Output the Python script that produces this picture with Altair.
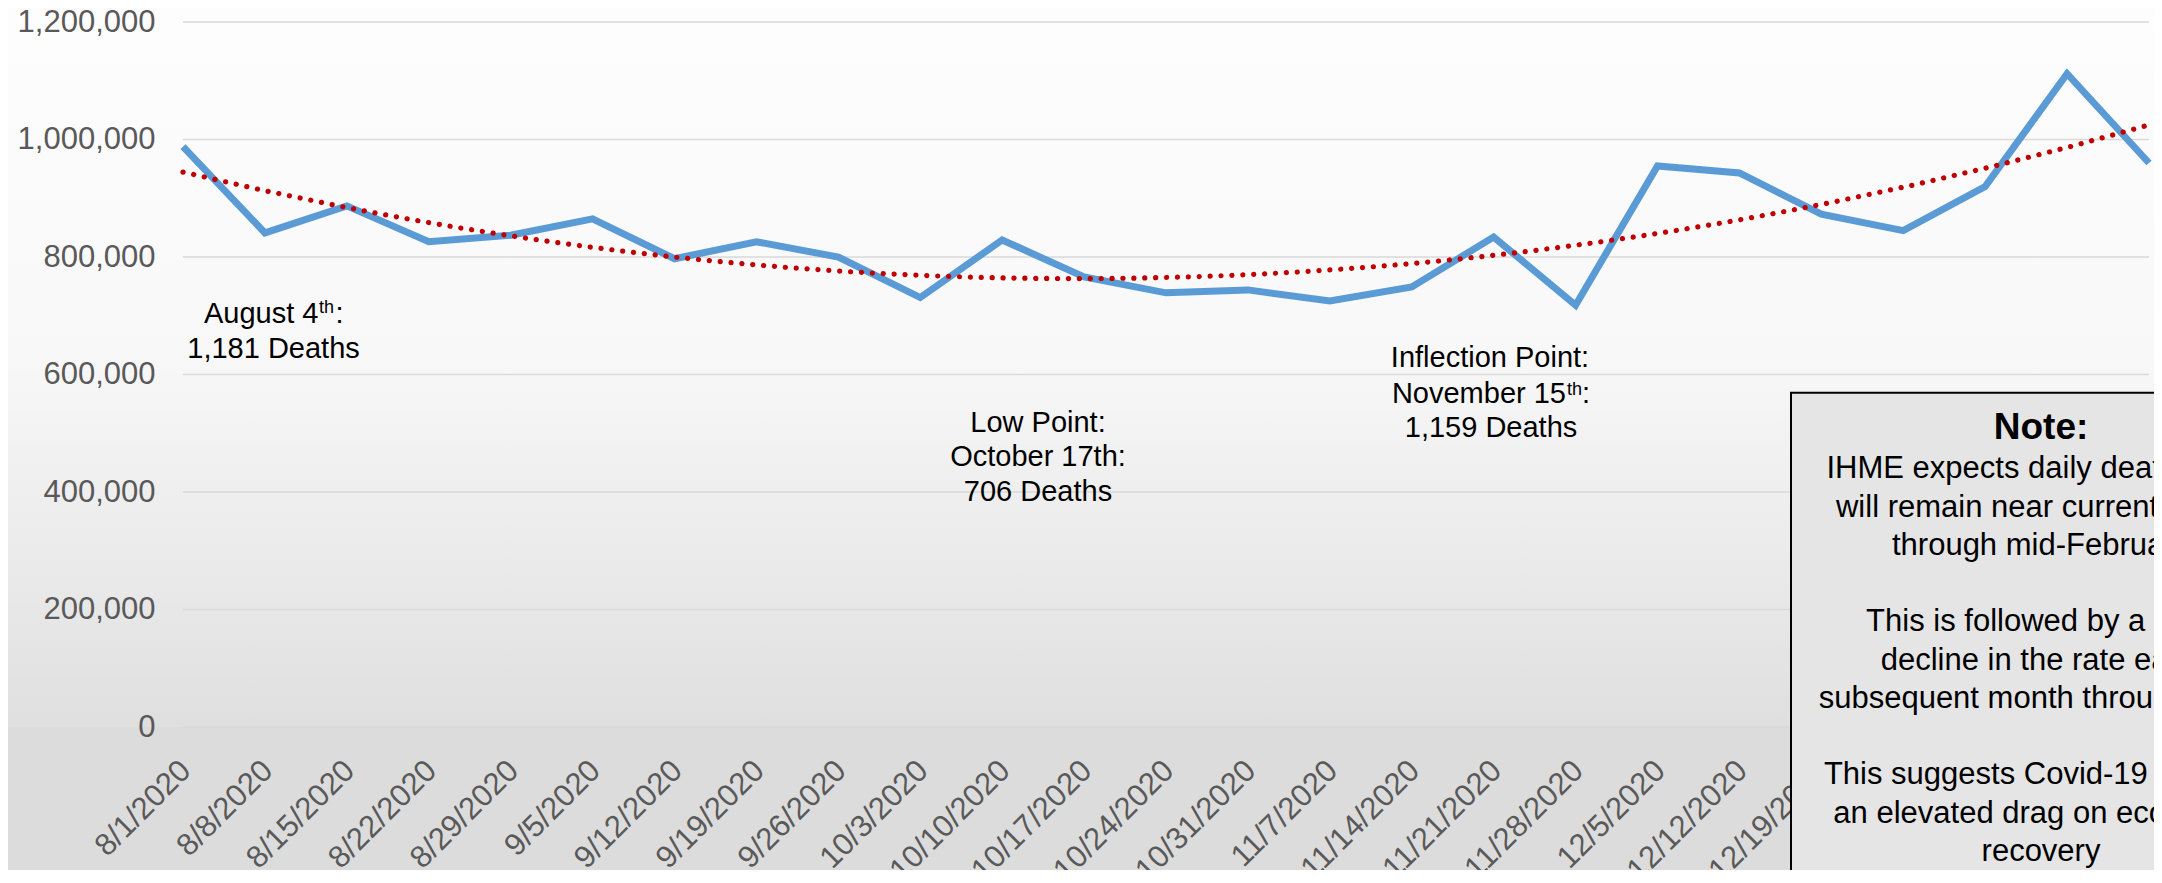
import json
import altair as alt
import pandas as pd

# ---- data ----
dates = ["8/1/2020", "8/8/2020", "8/15/2020", "8/22/2020", "8/29/2020", "9/5/2020",
         "9/12/2020", "9/19/2020", "9/26/2020", "10/3/2020", "10/10/2020", "10/17/2020",
         "10/24/2020", "10/31/2020", "11/7/2020", "11/14/2020", "11/21/2020", "11/28/2020",
         "12/5/2020", "12/12/2020", "12/19/2020", "12/26/2020", "1/2/2021", "1/9/2021",
         "1/16/2021"]
deaths = [988000, 841000, 887000, 826000, 837000, 865000, 797000, 826000, 800000,
          731000, 829000, 766000, 739000, 744000, 725000, 749000, 834000, 718000,
          955000, 943000, 873000, 845000, 920000, 1112000, 960000]
y_ticks = [0, 200000, 400000, 600000, 800000, 1000000, 1200000]

note_paragraphs = [
    ["IHME expects daily death rates",
     "will remain near current levels",
     "through mid-February"],
    ["This is followed by a 15%",
     "decline in the rate each",
     "subsequent month through June"],
    ["This suggests Covid-19 may be",
     "an elevated drag on economic",
     "recovery"],
]

# ---- layout ----
FONT = "Liberation Sans"
W, H = 1966, 705
PAD = {"left": 175, "top": 14, "right": 5, "bottom": 143}
n = len(dates)

df = pd.DataFrame({"i": list(range(n)), "date": dates, "deaths": deaths})
one = pd.DataFrame({"k": [0]})
grid_df = pd.DataFrame({"deaths": y_ticks})

label_expr = f"{json.dumps(dates)}[datum.value]"

x_scale = alt.Scale(domain=[0, n - 1], nice=False, zero=False)
# x axis stays behind the marks so the note box covers the labels under it
x_axis = alt.Axis(values=list(range(n)), labelExpr=label_expr,
                  labelAngle=-45, labelAlign="right", labelBaseline="top",
                  labelPadding=28, labelOffset=-8, labelFontSize=31,
                  labelColor="#595959", labelFont=FONT, grid=False,
                  domain=False, ticks=False, title=None, zindex=0,
                  labelOverlap=False, labelFlush=False)
y_scale = alt.Scale(domain=[0, 1200000], nice=False)
y_axis = alt.Axis(values=y_ticks, labelExpr="format(datum.value, ',.0f')",
                  labelFontSize=31, labelColor="#595959", labelFont=FONT,
                  labelPadding=28, grid=False, domain=False, ticks=False,
                  title=None, zindex=1, labelOverlap=False)

x_enc = alt.X("i:Q", scale=x_scale, axis=x_axis)
y_enc = alt.Y("deaths:Q", scale=y_scale, axis=y_axis)

# gradient behind the plot and the y labels; below the plot the page
# background colour continues it
gradient = {
    "gradient": "linear", "x1": 0, "y1": 0, "x2": 0, "y2": 1,
    "stops": [
        {"offset": 0.0, "color": "#fdfdfd"},
        {"offset": 0.48, "color": "#f8f8f8"},
        {"offset": 0.62, "color": "#f1f1f1"},
        {"offset": 0.82, "color": "#e8e8e8"},
        {"offset": 1.0, "color": "#dfdfdf"},
    ],
}

background = alt.Chart(one).mark_rect(color=gradient).encode(
    x=alt.value(-PAD["left"]), x2=alt.value(W + PAD["right"]),
    y=alt.value(-PAD["top"]), y2=alt.value(H))

grid = alt.Chart(grid_df).mark_rule(color="#d9d9d9", strokeWidth=1.6).encode(
    y=y_enc)

line = alt.Chart(df).mark_line(color="#5B9BD5", strokeWidth=7, strokeJoin="miter").encode(
    x=x_enc, y=y_enc)

trend = alt.Chart(df).transform_regression(
    "i", "deaths", method="poly", order=2, extent=[0, n - 1]
).mark_line(color="#C00000", strokeWidth=5.2, strokeDash=[0.1, 10.8],
            strokeCap="round").encode(x=x_enc, y=y_enc)


def txt(text, x, y, size=29, align="center", weight="normal", lh=None, color="#000000"):
    kw = dict(text=text, align=align, baseline="alphabetic", fontSize=size,
              font=FONT, color=color, fontWeight=weight)
    if lh is not None:
        kw["lineHeight"] = lh
    return alt.Chart(one).mark_text(**kw).encode(x=alt.value(x), y=alt.value(y))


annotations = [
    txt("August 4", 135.5, 300.7, align="right"),
    txt("th", 136, 291.3, size=18, align="left"),
    txt(":", 152.5, 300.7, align="left"),
    txt("1,181 Deaths", 90.5, 336.3),
    txt(["Low Point:", "October 17th:", "706 Deaths"], 855, 409.7, lh=34.5),
    txt("Inflection Point:", 1307, 345.3),
    txt("November 15", 1383, 380.7, align="right"),
    txt("th", 1384, 373, size=18, align="left"),
    txt(":", 1399, 380.7, align="left"),
    txt("1,159 Deaths", 1308, 415.3),
]

note_box = alt.Chart(one).mark_rect(fill="#e5e5e5", stroke="#000000", strokeWidth=2).encode(
    x=alt.value(1608), y=alt.value(370.7), x2=alt.value(2100), y2=alt.value(900))

NOTE_LH = 38.27
note_title = txt("Note:", 1858, 417.3, size=37, weight="bold")
note_body = [txt(p, 1858, 456.3 + k * 4 * NOTE_LH, size=31, lh=NOTE_LH)
             for k, p in enumerate(note_paragraphs)]

chart = alt.layer(
    background, grid, line, trend, *annotations, note_box, note_title, *note_body
).properties(
    width=W, height=H, padding=PAD,
    autosize=alt.AutoSizeParams(type="none"),
).configure(background="#dcdcdc").configure_view(stroke=None)

chart.save("out.html", embed_options={"renderer": "svg", "actions": False})
